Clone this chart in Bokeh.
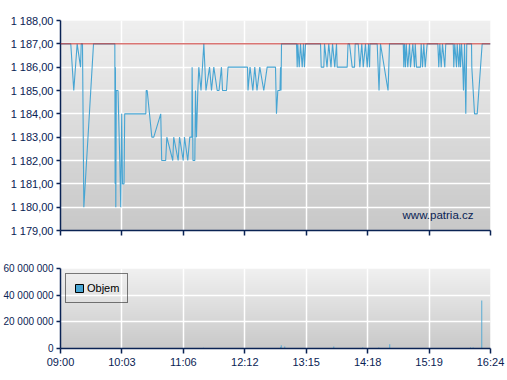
import numpy as np
from bokeh.plotting import figure
from bokeh.models import FixedTicker, Span, Label, Legend, LegendItem, Range1d
from bokeh.layouts import column
from bokeh.embed import file_html
from bokeh.resources import INLINE

# ---- data -------------------------------------------------------------
session_minutes = 444  # 09:00 -> 16:24

# trades: minutes after 09:00 and price
trade_min = [
    0.0, 10.6, 13.7, 17.2, 20.7, 21.4, 22.7, 24.1, 34.1, 56.1,
    56.4, 56.7, 57.1, 57.6, 59.4, 61.2, 62.2, 63.2, 64.0, 65.6,
    66.3, 88.1, 88.5, 89.5, 94.3, 96.3, 103.5, 104.5, 108.6, 109.8,
    115.9, 116.9, 121.5, 122.9, 126.7, 128.0, 131.4, 133.5, 135.6, 135.9,
    136.8, 138.7, 139.4, 140.4, 141.8, 142.8, 145.1, 148.0, 150.2, 153.9,
    155.9, 158.3, 161.8, 163.7, 166.2, 167.3, 171.4, 173.0, 193.1, 193.6,
    195.7, 198.6, 200.6, 202.9, 205.8, 209.9, 213.4, 222.0, 223.0, 224.4,
    226.6, 227.2, 227.7, 228.2, 243.7, 244.4, 245.0, 246.5, 247.8, 249.6,
    250.9, 251.9, 253.0, 268.5, 269.2, 271.9, 272.6, 275.2, 277.0, 279.3,
    280.9, 283.2, 285.0, 285.7, 296.0, 296.9, 298.4, 301.2, 303.6, 304.3,
    307.4, 309.1, 311.1, 312.6, 314.9, 316.7, 318.0, 319.1, 319.6, 327.0,
    328.9, 330.4, 338.2, 339.0, 339.7, 353.9, 354.5, 355.2, 356.2, 357.0,
    358.6, 360.4, 361.4, 363.8, 365.5, 366.3, 367.6, 371.7, 372.4, 373.8,
    375.1, 376.6, 378.6, 389.6, 390.6, 391.7, 393.1, 394.4, 396.8, 397.8,
    405.5, 406.1, 407.1, 408.9, 409.6, 411.3, 412.3, 413.0, 414.1, 415.4,
    416.1, 417.2, 418.5, 419.5, 424.4, 424.7, 426.1, 427.5, 430.3, 435.4,
    444.0,
]
trade_price = [
    1187, 1187, 1185, 1187, 1186, 1187, 1187, 1180, 1187, 1187,
    1181, 1186, 1180, 1185, 1185, 1182, 1180, 1184, 1181, 1181,
    1184, 1184, 1185, 1185, 1183, 1183, 1184, 1182, 1182, 1183,
    1182, 1183, 1182, 1183, 1182, 1183, 1182, 1183, 1183, 1186,
    1182, 1182, 1185, 1183, 1185, 1186, 1185, 1187, 1185, 1186,
    1185, 1186, 1185, 1185, 1186, 1185, 1185, 1186, 1186, 1185,
    1186, 1185, 1186, 1185, 1186, 1185, 1186, 1186, 1184, 1185,
    1185, 1186, 1185, 1187, 1187, 1186, 1187, 1186, 1187, 1186,
    1187, 1186, 1187, 1187, 1186, 1186, 1187, 1186, 1187, 1186,
    1187, 1186, 1187, 1186, 1186, 1187, 1187, 1186, 1186, 1187,
    1187, 1186, 1187, 1186, 1187, 1186, 1187, 1186, 1187, 1187,
    1185, 1187, 1185, 1186, 1187, 1187, 1186, 1187, 1186, 1187,
    1186, 1187, 1186, 1187, 1186, 1187, 1186, 1186, 1187, 1186,
    1187, 1186, 1187, 1187, 1186, 1187, 1186, 1187, 1186, 1187,
    1187, 1186, 1187, 1186, 1187, 1186, 1187, 1186, 1187, 1186,
    1185, 1187, 1184, 1187, 1187, 1186, 1185, 1184, 1184, 1187,
    1187,
]
ref_price = 1187.0

vol_min = [54.7, 92.9, 137.3, 147.7, 227.2, 227.9, 231.6, 282.2, 312.1,
           328.7, 340.0, 423.4, 426.1, 435.0]
vol_qty = [0.4e6, 0.3e6, 0.4e6, 0.5e6, 1.0e6, 2.5e6, 1.5e6, 1.5e6, 0.8e6,
           0.8e6, 3.2e6, 0.8e6, 0.8e6, 36.0e6]

x_tick_labels = ["09:00", "10:03", "11:06", "12:12", "13:15", "14:18", "15:19", "16:24"]
price_ticks = [1179, 1180, 1181, 1182, 1183, 1184, 1185, 1186, 1187, 1188]
vol_ticks = [0, 20_000_000, 40_000_000, 60_000_000]

# ---- style ------------------------------------------------------------
NAVY = "#0a2354"
BLUE = "#47a5d3"
FONT = "Liberation Sans"
LEFT = 60


def cz(v, dec):
    return f"{v:,.{dec}f}".replace(",", " ").replace(".", ",")


def gradient(n, top, bottom):
    img = np.empty((n, 1), dtype=np.uint32)
    view = img.view(dtype=np.uint8).reshape((n, 1, 4))
    for i in range(n):
        t = i / (n - 1)
        c = int(round(bottom + (top - bottom) * t))
        view[i, 0, 0] = c
        view[i, 0, 1] = c
        view[i, 0, 2] = c
        view[i, 0, 3] = 255
    return img


x_positions = list(np.linspace(0, session_minutes, len(x_tick_labels)))
x_over = {float(p): l for p, l in zip(x_positions, x_tick_labels)}


def style_axes(p, label_x=True):
    for ax in (p.xaxis[0], p.yaxis[0]):
        ax.axis_line_color = NAVY
        ax.axis_line_width = 1.5
        ax.major_tick_line_color = NAVY
        ax.major_tick_line_width = 1.5
        ax.major_tick_in = 0
        ax.minor_tick_line_color = None
        ax.major_label_text_color = NAVY
        ax.major_label_text_font = FONT
        ax.major_label_text_font_size = "11px"
    p.yaxis[0].major_tick_out = 4
    p.yaxis[0].major_label_standoff = 3
    p.xaxis[0].major_tick_out = 5
    p.xaxis[0].major_label_standoff = 2
    p.xaxis[0].ticker = FixedTicker(ticks=x_positions)
    if label_x:
        p.xaxis[0].major_label_overrides = x_over
    else:
        p.xaxis[0].major_label_text_color = None
        p.xaxis[0].major_label_text_font_size = "0px"
        p.xaxis[0].major_label_standoff = 0
    p.grid.grid_line_color = "white"
    p.grid.grid_line_width = 1.5
    p.grid.grid_line_alpha = 1.0


x_range = Range1d(0, session_minutes)

# ---- price chart --------------------------------------------------------
p1 = figure(frame_width=430, frame_height=210, x_range=x_range,
            y_range=Range1d(price_ticks[0], price_ticks[-1]),
            output_backend="svg", toolbar_location=None,
            min_border_left=LEFT, min_border_top=20, min_border_right=17,
            min_border_bottom=18, outline_line_color=None,
            background_fill_color="white", border_fill_color="white")
bg1 = p1.image_rgba(image=[gradient(210, 239, 200)], x=0, y=price_ticks[0],
                    dw=session_minutes, dh=price_ticks[-1] - price_ticks[0])
bg1.level = "image"
style_axes(p1, label_x=False)
p1.yaxis[0].ticker = FixedTicker(ticks=price_ticks)
p1.yaxis[0].major_label_overrides = {t: cz(t, 2) for t in price_ticks}
p1.add_layout(Span(location=ref_price, dimension="width", line_color="#c8322f",
                   line_width=1))
p1.line(trade_min, trade_price, line_color=BLUE, line_width=1.1)
p1.add_layout(Label(x=session_minutes, y=price_ticks[0], x_offset=-17, y_offset=16,
                    text="www.patria.cz", text_align="right", text_baseline="middle",
                    text_font=FONT, text_font_size="11.5px", text_color=NAVY))

# ---- volume chart -------------------------------------------------------
p2 = figure(frame_width=430, frame_height=80, x_range=x_range,
            y_range=Range1d(vol_ticks[0], vol_ticks[-1]),
            output_backend="svg", toolbar_location=None,
            min_border_left=LEFT, min_border_top=20, min_border_right=17,
            min_border_bottom=18, outline_line_color=None,
            background_fill_color="white", border_fill_color="white")
bg2 = p2.image_rgba(image=[gradient(80, 240, 201)], x=0, y=vol_ticks[0],
                    dw=session_minutes, dh=vol_ticks[-1] - vol_ticks[0])
bg2.level = "image"
style_axes(p2, label_x=True)
p2.yaxis[0].ticker = FixedTicker(ticks=vol_ticks)
p2.yaxis[0].major_label_overrides = {t: cz(t, 0) for t in vol_ticks}
p2.yaxis[0].major_label_text_font_size = "10px"
p2.vbar(x=vol_min, top=vol_qty, width=0.9, fill_color=BLUE, line_color=None)
swatch = p2.vbar(x=vol_min, top=vol_qty, width=0.9, fill_color=BLUE,
                 line_color="black", visible=False)
legend = Legend(items=[LegendItem(label="Objem", renderers=[swatch])],
                location="top_left", margin=5, padding=8, spacing=0,
                glyph_width=10, glyph_height=10, label_height=12,
                label_standoff=3, label_text_font=FONT,
                label_text_font_size="11px", label_text_color="black",
                border_line_color="black", border_line_width=1,
                background_fill_alpha=0, inactive_fill_alpha=0,
                click_policy="none")
p2.add_layout(legend)

layout = column(p1, p2, spacing=0)
open("out.html", "w").write(file_html(layout, INLINE))
